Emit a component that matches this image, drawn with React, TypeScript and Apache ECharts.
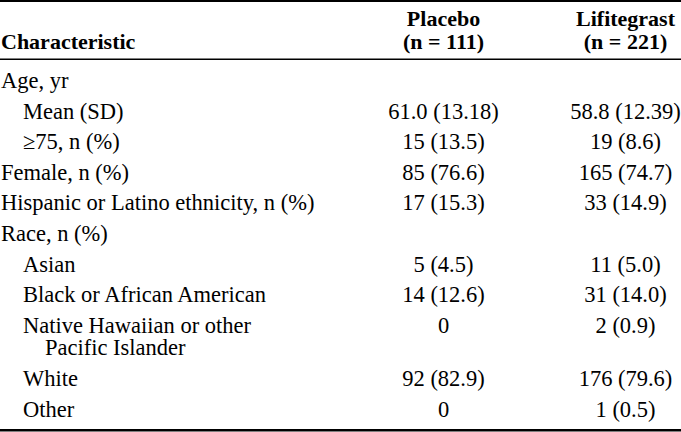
import React, { useEffect, useRef } from "react";
import * as echarts from "echarts";

const columnHeaders = ["Characteristic", "Placebo", "Lifitegrast"];
const groupSizes = ["", "(n = 111)", "(n = 221)"];

const characteristics = [
  ["Age, yr"],
  ["Mean (SD)"],
  ["\u226575, n (%)"],
  ["Female, n (%)"],
  ["Hispanic or Latino ethnicity, n (%)"],
  ["Race, n (%)"],
  ["Asian"],
  ["Black or African American"],
  ["Native Hawaiian or other", "Pacific Islander"],
  ["White"],
  ["Other"],
];
const indentLevels = [0, 1, 1, 0, 0, 0, 1, 1, 1, 1, 1];

const placeboValues = ["", "61.0 (13.18)", "15 (13.5)", "85 (76.6)", "17 (15.3)", "", "5 (4.5)", "14 (12.6)", "0", "92 (82.9)", "0"];
const lifitegrastValues = ["", "58.8 (12.39)", "19 (8.6)", "165 (74.7)", "33 (14.9)", "", "11 (5.0)", "31 (14.0)", "2 (0.9)", "176 (79.6)", "1 (0.5)"];

const W = 681;
const H = 432;
const FONT = "Liberation Serif";
const FS = 22.5;
const FS_BOLD = 22;
const LINE = 22.5;

export default function App() {
  const ref = useRef<HTMLDivElement>(null);
  useEffect(() => {
    if (!ref.current) return;
    const chart = echarts.init(ref.current, null, { renderer: "svg", width: W, height: H });
    const els: any[] = [];
    const baselineOffset = 7.5; // middle alignment -> baseline
    // single- or multi-line text; baseline = baseline of first line
    const text = (t: string, x: number, baseline: number, align: string, bold = false, extra: any = {}) => {
      const nLines = t.split("\n").length;
      return {
        type: "text",
        x,
        y: baseline - baselineOffset + ((nLines - 1) * LINE) / 2,
        silent: true,
        style: {
          text: t,
          fill: "#000",
          fontFamily: FONT,
          fontSize: bold ? FS_BOLD : FS,
          fontWeight: bold ? "bold" : "normal",
          lineHeight: nLines > 1 ? LINE : 20,
          align,
          verticalAlign: "middle",
          ...extra,
        },
      };
    };
    const colX = [1, 443.5, 625.5];
    // rules
    els.push({ type: "rect", shape: { x: 0, y: 0, width: W, height: 2 }, style: { fill: "#000" }, silent: true });
    els.push({ type: "rect", shape: { x: 0, y: 58.5, width: W, height: 1.5 }, style: { fill: "#000" }, silent: true });
    els.push({ type: "rect", shape: { x: 0, y: 429, width: W, height: 2.5 }, style: { fill: "#000" }, silent: true });
    // header
    els.push(text(columnHeaders[0], colX[0], 48.5, "left", true));
    els.push(text(columnHeaders[1] + "\n" + groupSizes[1], colX[1], 26, "center", true));
    els.push(text(columnHeaders[2] + "\n" + groupSizes[2], colX[2], 26, "center", true));
    // body
    let y = 88;
    const rowStep = 30.6;
    const wrapIndent = 22;
    const richBase = { fontFamily: FONT, fontSize: FS, lineHeight: LINE, fill: "#000" };
    characteristics.forEach((lines, i) => {
      const indentX = 1 + indentLevels[i] * 22;
      if (lines.length === 1) {
        els.push(text(lines[0], indentX, y, "left"));
      } else {
        const rt = lines.map((ln, j) => (j === 0 ? `{a|${ln}}` : `{b|${ln}}`)).join("\n");
        els.push(
          text(rt, indentX, y, "left", false, {
            rich: {
              a: { ...richBase },
              b: { ...richBase, padding: [0, 0, 0, wrapIndent] },
            },
          })
        );
      }
      if (placeboValues[i]) els.push(text(placeboValues[i], colX[1], y, "center"));
      if (lifitegrastValues[i]) els.push(text(lifitegrastValues[i], colX[2], y, "center"));
      y += rowStep + (lines.length - 1) * LINE;
    });
    chart.setOption({ animation: false, graphic: { elements: els } });
    return () => chart.dispose();
  }, []);
  return <div ref={ref} style={{ position: "fixed", left: 0, top: 0, width: W, height: H, background: "#fff" }} />;
}
